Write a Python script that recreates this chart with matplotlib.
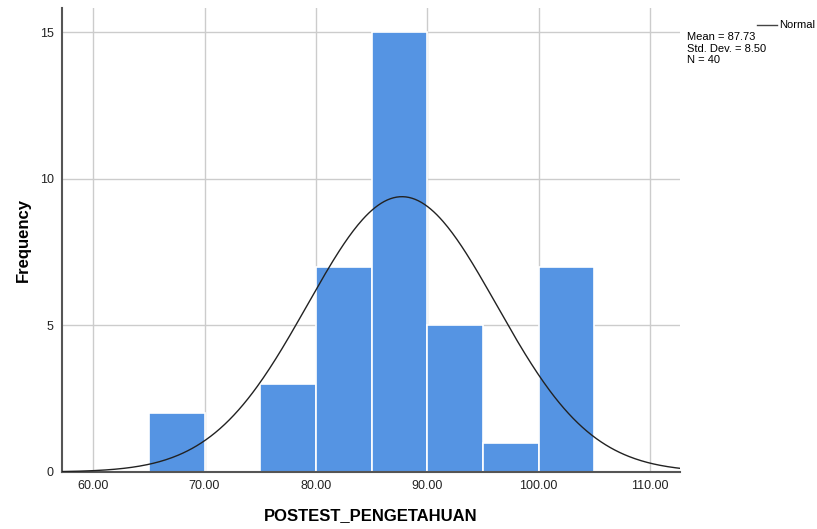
import numpy as np
import matplotlib
matplotlib.use("Agg")
import matplotlib.pyplot as plt

bin_edges = [65, 70, 75, 80, 85, 90, 95, 100, 105]
counts = [2, 0, 3, 7, 15, 5, 1, 7]
mean = 87.73
std = 8.50
n = 40
xticks = [60, 70, 80, 90, 100, 110]
yticks = [0, 5, 10, 15]

plt.rcParams['font.family'] = ['Liberation Sans', 'DejaVu Sans']
fig = plt.figure(figsize=(8.17, 5.29), dpi=100)
ax = fig.add_axes([62/817, 57/529, (680-62)/817, (472-8)/529])

lefts = bin_edges[:-1]
widths = np.diff(bin_edges)
ax.bar(lefts, counts, width=widths, align='edge', color='#5594e3',
       edgecolor='white', linewidth=1.2, zorder=2)

x = np.linspace(57.2, 112.7, 400)
bw = bin_edges[1] - bin_edges[0]
y = n * bw / (std * np.sqrt(2 * np.pi)) * np.exp(-0.5 * ((x - mean) / std) ** 2)
ax.plot(x, y, color='#222222', linewidth=1.0, zorder=3)

ax.set_xlim(57.2, 112.7)
ax.set_ylim(0, 15.82)
ax.set_xticks(xticks)
ax.set_xticklabels([f"{v:.2f}" for v in xticks])
ax.set_yticks(yticks)
ax.grid(True, color='#cccccc', linewidth=1.0, zorder=0)
ax.set_axisbelow(True)
ax.tick_params(length=0, labelsize=9, colors='#222222', pad=6)
for s in ['top', 'right']:
    ax.spines[s].set_visible(False)
ax.spines['left'].set_color('#555555')
ax.spines['left'].set_linewidth(1.5)
ax.spines['bottom'].set_color('#555555')
ax.spines['bottom'].set_linewidth(1.5)

ax.set_xlabel('POSTEST_PENGETAHUAN', fontsize=12, fontweight='bold', labelpad=11)
ax.set_ylabel('Frequency', fontsize=12, fontweight='bold', labelpad=6)

fig.text(779/817, 1 - 25/529, 'Normal', fontsize=8, va='center', ha='left')
fig.lines.append(plt.Line2D([757/817, 777/817], [1 - 25/529, 1 - 25/529],
                            transform=fig.transFigure, color='#444444', linewidth=1))
fig.text(687/817, 1 - 32/529, f'Mean = {mean:.2f}\nStd. Dev. = {std:.2f}\nN = {n}',
         fontsize=8, va='top', ha='left', linespacing=1.2)

fig.savefig('out.png', dpi=100)
